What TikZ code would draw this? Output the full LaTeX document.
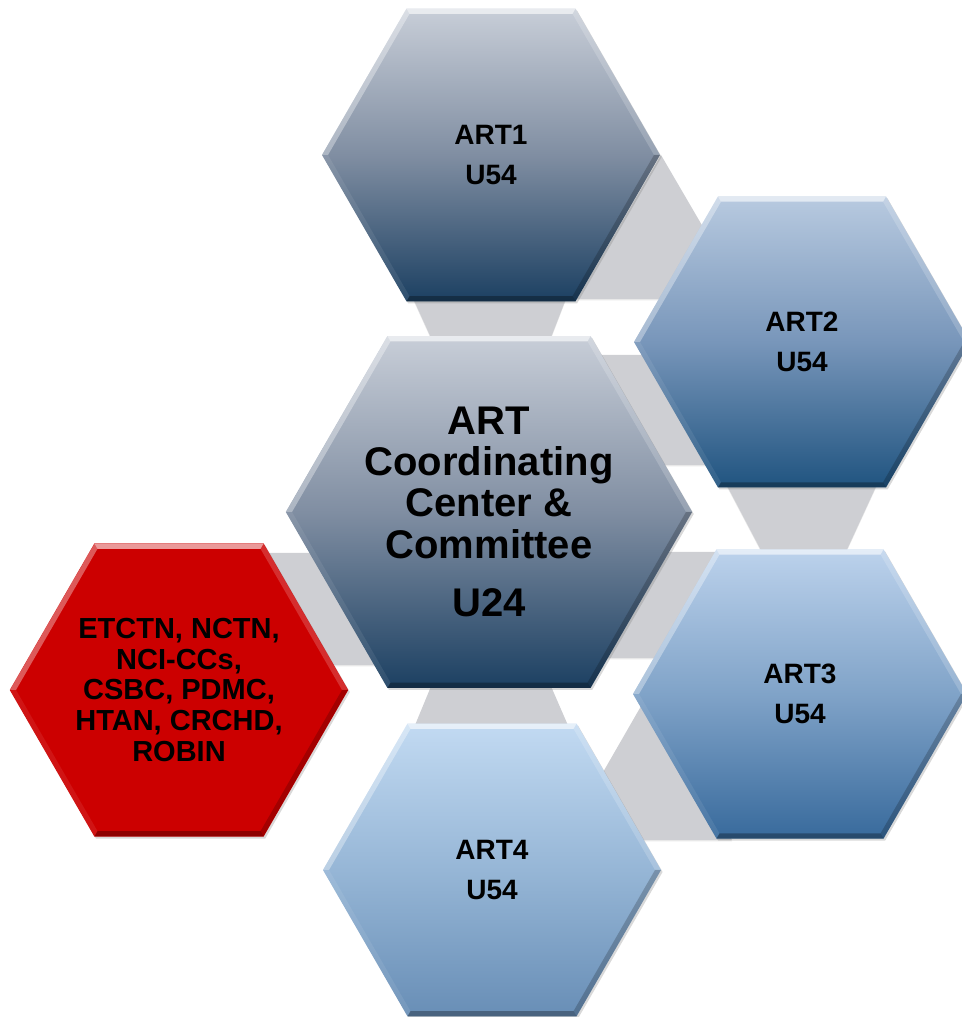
\documentclass[tikz,border=0pt]{standalone}
\usepackage{fontspec}
\setmainfont{Liberation Sans}
\usetikzlibrary{shapes.geometric,calc,shadows}

\definecolor{linkgray}{RGB}{206,207,211}
\definecolor{navyTop}{RGB}{200,206,216}
\definecolor{navyMid}{RGB}{128,142,162}
\definecolor{navyBot}{RGB}{28,64,98}
\definecolor{artTwoTop}{RGB}{184,202,224}
\definecolor{artTwoMid}{RGB}{120,150,186}
\definecolor{artTwoBot}{RGB}{32,84,128}
\definecolor{artThreeTop}{RGB}{188,210,236}
\definecolor{artThreeMid}{RGB}{128,163,200}
\definecolor{artThreeBot}{RGB}{56,106,156}
\definecolor{artFourTop}{RGB}{194,218,242}
\definecolor{artFourMid}{RGB}{150,182,214}
\definecolor{artFourBot}{RGB}{104,142,182}
\definecolor{partnerRed}{RGB}{204,0,0}

% bevelled rim of a flat-topped hexagon node: #1 node name, #2 circumradius
\newcommand\hexbevel[2]{%
  \foreach \ang/\bcol/\bop in {60/white/0.6,120/white/0.35,0/white/0.18,180/white/0.08,240/black/0.3,300/black/0.2}{%
    \fill[\bcol,opacity=\bop] ($(#1.center)+(\ang:#2)$) -- ($(#1.center)+(\ang+60:#2)$)
      -- ($(#1.center)+(\ang+60:#2-6)$) -- ($(#1.center)+(\ang:#2-6)$) -- cycle;
  }%
}

\begin{document}
\begin{tikzpicture}[x=0.75pt,y=0.75pt,
  hexcell/.style={regular polygon,regular polygon sides=6,inner sep=0pt,outer sep=0pt,
    draw=none,align=center,text=black,
    drop shadow={shadow xshift=1.2pt,shadow yshift=-1.5pt,opacity=0.3}},
  smallcell/.style={hexcell,minimum size=253.5pt,font={\bfseries\fontsize{21}{30}\selectfont}},
  link/.style={fill=linkgray,draw=none,
    drop shadow={shadow xshift=0pt,shadow yshift=-1pt,opacity=0.18}}
]
\useasboundingbox (0,0) rectangle (961,1017);

% grey links between neighbouring cells
\path[link] (412,721) -- (567,721) -- (550,677) -- (432,677) -- cycle;
\path[link] (432,333) -- (550,333) -- (570,287) -- (413,287) -- cycle;
\path[link] (724,537) -- (879,537) -- (844,461) -- (764,461) -- cycle;
\path[link] (661,862) -- (577,718) -- (745,718) -- cycle;
\path[link] (648,323) -- (564,177) -- (732,177) -- cycle;
\path[link] (650,465) -- (730,465) -- (660,359) -- (590,359) -- cycle;
\path[link] (590,662) -- (660,662) -- (720,552) -- (650,552) -- cycle;
\path[link] (265,464) -- (315,464) -- (380,352) -- (330,352) -- cycle;

% cells
\node[smallcell,top color=navyTop,bottom color=navyBot,middle color=navyMid] (art1) at (491,862) {ART1\\U54};
\node[smallcell,minimum size=252pt,top color=artTwoTop,bottom color=artTwoBot,middle color=artTwoMid] (art2) at (802,675) {ART2\\U54};
\node[smallcell,minimum size=250.5pt,top color=artThreeTop,bottom color=artThreeBot,middle color=artThreeMid] (art3) at (800,323) {ART3\\U54};
\node[smallcell,top color=artFourTop,bottom color=artFourBot,middle color=artFourMid] (art4) at (492,147) {ART4\\U54};
\node[hexcell,minimum size=304.5pt,top color=navyTop,bottom color=navyBot,middle color=navyMid,
  font={\bfseries\fontsize{30}{31}\selectfont}] (core) at (489,505)
  {ART\\Coordinating\\Center \&\\Committee\\[13pt]U24};
\node[hexcell,minimum size=253.5pt,fill=partnerRed,
  font={\bfseries\fontsize{21.75}{23}\selectfont}] (partners) at (179,327)
  {ETCTN, NCTN,\\NCI-CCs,\\CSBC, PDMC,\\HTAN, CRCHD,\\ROBIN};

\hexbevel{art1}{169}
\hexbevel{art2}{168}
\hexbevel{art3}{167}
\hexbevel{art4}{169}
\hexbevel{core}{203}
\hexbevel{partners}{169}
\end{tikzpicture}
\end{document}
